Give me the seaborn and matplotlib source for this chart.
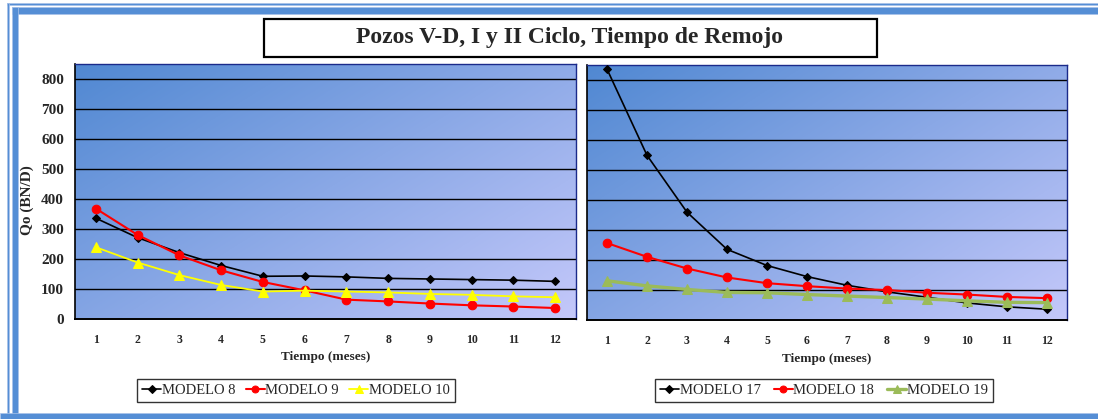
import numpy as np
import pandas as pd
import matplotlib
matplotlib.use("Agg")
import matplotlib.pyplot as plt
from matplotlib.patches import Rectangle
import seaborn as sns

# Producción mensual (BN/D) por modelo
meses = list(range(1, 13))
modelo_8 = [335, 270, 220, 177, 141, 142, 139, 134, 132, 130, 128, 124]
modelo_9 = [367, 279, 211, 161, 122, 94, 63, 57, 50, 44, 40, 35]
modelo_10 = [238, 187, 145, 112, 90, 93, 90, 87, 82, 79, 74, 71]
modelo_17 = [838, 550, 360, 236, 182, 145, 116, 94, 76, 57, 44, 36]
modelo_18 = [257, 211, 172, 142, 123, 113, 105, 100, 91, 85, 77, 73]
modelo_19 = [131, 114, 102, 92, 91, 85, 80, 75, 70, 64, 59, 58]

titulo = "Pozos V-D, I y II Ciclo, Tiempo de Remojo"
eje_y = "Qo (BN/D)"
eje_x = "Tiempo (meses)"

sns.set_style("white")
plt.rcParams["font.family"] = ["Liberation Serif", "DejaVu Serif"]

W, H = 1098, 419
fig = plt.figure(figsize=(W / 100, H / 100), dpi=100)
fig.patch.set_facecolor("white")


def fx(px):
    return px / W


def fy(py):
    return 1 - py / H


# marco azul del documento
azul = "#558ed5"
azul_claro = "#a9c3ea"
for (x0, y0, x1, y1, c) in [
    (7, 3, W, 5.5, azul),
    (11.5, 7.5, W, 14.5, azul),
    (7, 3, 9, H, azul),
    (11.5, 7.5, 17.5, H, azul),
    (0, 413, W, H, azul),
]:
    fig.add_artist(Rectangle((fx(x0), fy(y1)), fx(x1 - x0), (y1 - y0) / H,
                             transform=fig.transFigure, facecolor=c,
                             edgecolor=azul_claro, linewidth=0.5, zorder=0))

# recuadro del título
fig.add_artist(Rectangle((fx(264), fy(57)), fx(877 - 264), (57 - 19) / H,
                         transform=fig.transFigure, facecolor="white",
                         edgecolor="black", linewidth=1.6, zorder=1))
fig.text(fx(570), fy(38), titulo, ha="center", va="center",
         fontsize=17, fontweight="bold")

# fondo degradado de las áreas de trazado
c0 = np.array([80, 136, 210]) / 255
c1 = np.array([196, 200, 250]) / 255
u = np.linspace(0, 1, 200)
v = np.linspace(0, 1, 200)
U, V = np.meshgrid(u, v)
T = np.clip(0.55 * U + 0.45 * V, 0, 1)
grad = c0[None, None, :] * (1 - T[..., None]) + c1[None, None, :] * T[..., None]

ax1 = fig.add_axes([fx(75), fy(318.5), fx(576 - 75), (318.5 - 64) / H])
ax2 = fig.add_axes([fx(587), fy(320), fx(1067 - 587), (320 - 65.5) / H])

series_izq = [
    ("MODELO 8", modelo_8, "black", "D", 4.5, 1.2),
    ("MODELO 9", modelo_9, "#ff0000", "o", 6.2, 1.5),
    ("MODELO 10", modelo_10, "#ffff00", "^", 7, 1.3),
]
series_der = [
    ("MODELO 17", modelo_17, "black", "D", 4.5, 1.2),
    ("MODELO 18", modelo_18, "#ff0000", "o", 6.2, 1.5),
    ("MODELO 19", modelo_19, "#9bbb59", "^", 7, 2.4),
]

for ax, series, legx, colsp in [(ax1, series_izq, 296, 0.7),
                                (ax2, series_der, 824, 0.9)]:
    ax.imshow(grad, extent=(0, 1, 0, 1), transform=ax.transAxes,
              aspect="auto", origin="upper", zorder=0)
    for nombre, vals, col, mk, ms, lw in series:
        df = pd.DataFrame({"mes": meses, "qo": vals})
        sns.lineplot(data=df, x="mes", y="qo", ax=ax, color=col, marker=mk,
                     markersize=ms, linewidth=lw, markeredgecolor=col,
                     label=nombre, zorder=3)
    ax.set_xlim(0.5, 12.5)
    ax.set_ylim(0, 850)
    ax.set_yticks(range(0, 900, 100))
    for yv in range(100, 900, 100):
        ax.axhline(yv, color="black", linewidth=1.0, zorder=2)
    ax.set_xticks(meses)
    ax.set_xticks(np.arange(0.5, 13, 1), minor=True)
    ax.tick_params(axis="x", which="major", length=0, pad=11,
                   labelsize=8.5)
    ax.tick_params(axis="x", which="minor", length=5, width=1,
                   direction="out", color="black")
    ax.tick_params(axis="y", length=5, width=1, direction="out",
                   color="black", labelsize=11, pad=3)
    for lbl in ax.get_xticklabels() + ax.get_yticklabels():
        lbl.set_fontweight("bold")
    ax.set_xlabel(eje_x, fontsize=9.5, fontweight="bold", labelpad=4)
    ax.set_ylabel("")
    for s in ["top", "right"]:
        ax.spines[s].set_color("#1a2a8a")
        ax.spines[s].set_linewidth(1.0)
    ax.spines["left"].set_color("black")
    ax.spines["bottom"].set_color("black")
    ax.spines["left"].set_linewidth(1.2)
    ax.spines["bottom"].set_linewidth(1.4)
    ax.get_legend().remove()
    h, l = ax.get_legend_handles_labels()
    leg = fig.legend(h, l, loc="center", ncol=3,
                     bbox_to_anchor=(fx(legx), fy(390.5)),
                     bbox_transform=fig.transFigure, frameon=True,
                     fancybox=False, edgecolor="black", fontsize=10.5,
                     handlelength=1.3, handletextpad=0.05, markerscale=0.8,
                     columnspacing=colsp, borderpad=0.35)
    leg.get_frame().set_linewidth(1.0)

ax2.set_yticklabels([])
fig.text(fx(27), fy(200), eje_y, rotation=90, ha="center", va="center",
         fontsize=11, fontweight="bold")

fig.savefig("out.png", dpi=100, facecolor="white")
